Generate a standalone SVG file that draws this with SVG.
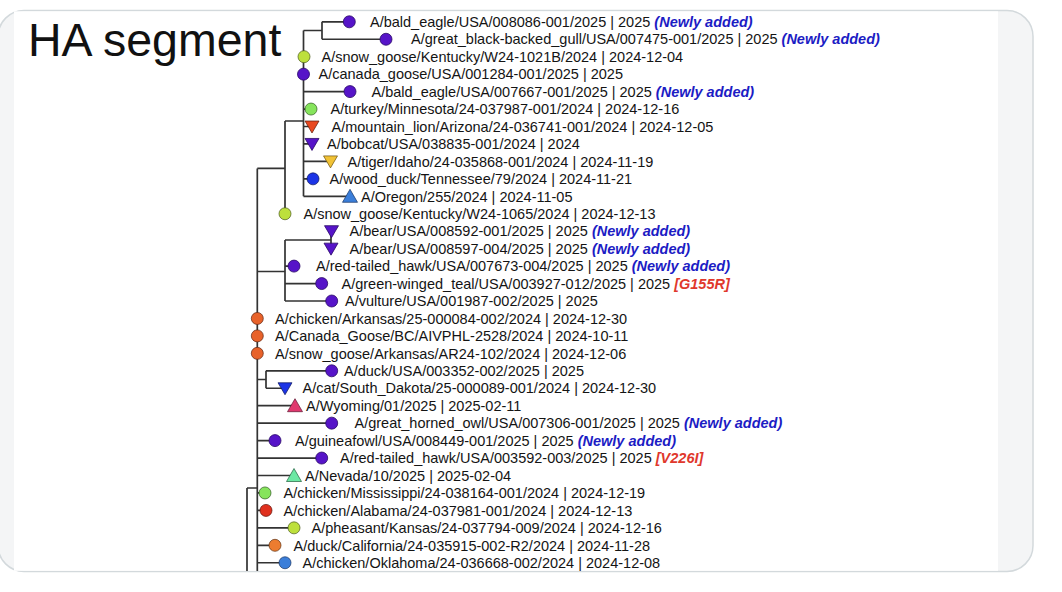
<svg xmlns="http://www.w3.org/2000/svg" xmlns:xlink="http://www.w3.org/1999/xlink" width="1062" height="592" viewBox="0 0 1062 592">
<style>
text{font-family:"Liberation Sans",Arial,Helvetica,sans-serif;font-size:14.5px;fill:#141414}
.title{font-size:46.5px;fill:#111}
.nw{fill:#1c1cc4;font-weight:bold;font-style:italic}
.mut{fill:#e0382c;font-weight:bold;font-style:italic}
.br{fill:none;stroke:#333;stroke-width:1.7}
.pu{fill:#5614c8;stroke:#2a0a66;stroke-width:0.8}
.yg{fill:#bde03c;stroke:#4a5a18;stroke-width:0.7}
.lg{fill:#86e45c;stroke:#2f5a20;stroke-width:0.7}
.rd{fill:#e9481f;stroke:#5a1a0a;stroke-width:0.7}
.gd{fill:#f1c235;stroke:#6a5210;stroke-width:0.7}
.bl{fill:#1c34e6;stroke:#0a145a;stroke-width:0.7}
.mb{fill:#3b7ed9;stroke:#173463;stroke-width:0.7}
.or{fill:#e8622a;stroke:#5e2410;stroke-width:0.7}
.or2{fill:#ec7c30;stroke:#5e3010;stroke-width:0.7}
.pk{fill:#e0386e;stroke:#5e1430;stroke-width:0.7}
.mt{fill:#6ce8a4;stroke:#1f5e3e;stroke-width:0.7}
.al{fill:#e0301e;stroke:#5e140c;stroke-width:0.7}
</style>
<defs>
<circle id="dot" r="6"/>
<path id="tdn" d="M-7,-5.5 L7,-5.5 L0,6.5 Z"/>
<path id="tup" d="M0,-7 L7.5,6 L-7.5,6 Z"/>
<clipPath id="card"><rect x="0" y="11" width="1032" height="560"/></clipPath>
</defs>
<rect x="0" y="0" width="1062" height="592" fill="#ffffff"/>
<rect x="-2" y="10.5" width="1035" height="561" rx="26" fill="#f4f5f6" stroke="#d3d9dc" stroke-width="1.5"/>
<rect x="14" y="11.3" width="984" height="559.5" fill="#ffffff"/>
<text class="title" x="28" y="56">HA segment</text>
<g id="connectors" clip-path="url(#card)">
<path class="br" d="M322,21.8 V39.25 M322,21.8 H349 M322,39.25 H386 M303.5,30.5 H322"/>
<path class="br" d="M303.5,30.5 V196.3 M303.5,91.6 H350 M303.5,109.05 H311 M303.5,126.5 H312 M303.5,143.95 H312 M303.5,161.4 H330.5 M303.5,178.85 H313 M303.5,196.3 H350"/>
<path class="br" d="M285,121 V213.75 M285,121 H303.5"/>
<path class="br" d="M257.3,168.4 V575 M257.3,168.4 H285"/>
<path class="br" d="M285,240 V301 M285,240 H331 M331,231.2 V248.65 M285,266.1 H294 M285,283.55 H321.7 M285,301 H331.7 M257.3,271.5 H285"/>
<path class="br" d="M266,370.8 V388.25 M257.3,379.5 H266 M266,370.8 H331.7 M266,388.25 H285"/>
<path class="br" d="M257.3,405.7 H295 M257.3,423.15 H331.7 M257.3,440.6 H275 M257.3,458.05 H321.7 M257.3,475.5 H294 M257.3,492.95 H265 M257.3,510.4 H266 M257.3,527.85 H294 M257.3,545.3 H275 M257.3,562.75 H285"/>
<path class="br" d="M247,488 V575 M247,488 H257.3"/>
</g>
<g id="leaf-bald-eagle-008086"><use href="#dot" x="349.3" y="21.8" class="pu"/><text x="370" y="27">A/bald_eagle/USA/008086-001/2025 | 2025 <tspan class="nw">(Newly added)</tspan></text></g>
<g id="leaf-gull-007475"><use href="#dot" x="386" y="39.25" class="pu"/><text x="411" y="44.45">A/great_black-backed_gull/USA/007475-001/2025 | 2025 <tspan class="nw">(Newly added)</tspan></text></g>
<g id="leaf-snow-goose-w24-1021b"><use href="#dot" x="304" y="56.7" class="yg"/><text x="321.5" y="61.9">A/snow_goose/Kentucky/W24-1021B/2024 | 2024-12-04</text></g>
<g id="leaf-canada-goose-001284"><use href="#dot" x="303.5" y="74.15" class="pu"/><text x="318.5" y="79.35">A/canada_goose/USA/001284-001/2025 | 2025</text></g>
<g id="leaf-bald-eagle-007667"><use href="#dot" x="350" y="91.6" class="pu"/><text x="371.5" y="96.8">A/bald_eagle/USA/007667-001/2025 | 2025 <tspan class="nw">(Newly added)</tspan></text></g>
<g id="leaf-turkey"><use href="#dot" x="311" y="109.05" class="lg"/><text x="330.5" y="114.25">A/turkey/Minnesota/24-037987-001/2024 | 2024-12-16</text></g>
<g id="leaf-mountain-lion"><use href="#tdn" x="312" y="126.5" class="rd"/><text x="331.5" y="131.7">A/mountain_lion/Arizona/24-036741-001/2024 | 2024-12-05</text></g>
<g id="leaf-bobcat"><use href="#tdn" x="312" y="143.95" class="pu"/><text x="327" y="149.15">A/bobcat/USA/038835-001/2024 | 2024</text></g>
<g id="leaf-tiger"><use href="#tdn" x="330.5" y="161.4" class="gd"/><text x="347.5" y="166.6">A/tiger/Idaho/24-035868-001/2024 | 2024-11-19</text></g>
<g id="leaf-wood-duck"><use href="#dot" x="313" y="178.85" class="bl"/><text x="329.5" y="184.05">A/wood_duck/Tennessee/79/2024 | 2024-11-21</text></g>
<g id="leaf-oregon"><use href="#tup" x="350" y="196.3" class="mb"/><text x="361" y="201.5">A/Oregon/255/2024 | 2024-11-05</text></g>
<g id="leaf-snow-goose-w24-1065"><use href="#dot" x="285" y="213.75" class="yg"/><text x="303.5" y="218.95">A/snow_goose/Kentucky/W24-1065/2024 | 2024-12-13</text></g>
<g id="leaf-bear-008592"><use href="#tdn" x="331.5" y="231.2" class="pu"/><text x="349.5" y="236.4">A/bear/USA/008592-001/2025 | 2025 <tspan class="nw">(Newly added)</tspan></text></g>
<g id="leaf-bear-008597"><use href="#tdn" x="331" y="248.65" class="pu"/><text x="349.5" y="253.85">A/bear/USA/008597-004/2025 | 2025 <tspan class="nw">(Newly added)</tspan></text></g>
<g id="leaf-red-tailed-hawk-007673"><use href="#dot" x="294" y="266.1" class="pu"/><text x="316" y="271.3">A/red-tailed_hawk/USA/007673-004/2025 | 2025 <tspan class="nw">(Newly added)</tspan></text></g>
<g id="leaf-green-winged-teal"><use href="#dot" x="321.7" y="283.55" class="pu"/><text x="341.5" y="288.75">A/green-winged_teal/USA/003927-012/2025 | 2025 <tspan class="mut">[G155R]</tspan></text></g>
<g id="leaf-vulture"><use href="#dot" x="331.7" y="301" class="pu"/><text x="345" y="306.2">A/vulture/USA/001987-002/2025 | 2025</text></g>
<g id="leaf-chicken-arkansas"><use href="#dot" x="257.3" y="318.45" class="or"/><text x="275" y="323.65">A/chicken/Arkansas/25-000084-002/2024 | 2024-12-30</text></g>
<g id="leaf-canada-goose-bc"><use href="#dot" x="257.3" y="335.9" class="or"/><text x="275" y="341.1">A/Canada_Goose/BC/AIVPHL-2528/2024 | 2024-10-11</text></g>
<g id="leaf-snow-goose-arkansas"><use href="#dot" x="257.3" y="353.35" class="or"/><text x="275" y="358.55">A/snow_goose/Arkansas/AR24-102/2024 | 2024-12-06</text></g>
<g id="leaf-duck-003352"><use href="#dot" x="331.7" y="370.8" class="pu"/><text x="344" y="376">A/duck/USA/003352-002/2025 | 2025</text></g>
<g id="leaf-cat"><use href="#tdn" x="285" y="388.25" class="bl"/><text x="302.5" y="393.45">A/cat/South_Dakota/25-000089-001/2024 | 2024-12-30</text></g>
<g id="leaf-wyoming"><use href="#tup" x="295" y="405.7" class="pk"/><text x="306" y="410.9">A/Wyoming/01/2025 | 2025-02-11</text></g>
<g id="leaf-great-horned-owl"><use href="#dot" x="331.7" y="423.15" class="pu"/><text x="354.5" y="428.35">A/great_horned_owl/USA/007306-001/2025 | 2025 <tspan class="nw">(Newly added)</tspan></text></g>
<g id="leaf-guineafowl"><use href="#dot" x="275" y="440.6" class="pu"/><text x="295" y="445.8">A/guineafowl/USA/008449-001/2025 | 2025 <tspan class="nw">(Newly added)</tspan></text></g>
<g id="leaf-red-tailed-hawk-003592"><use href="#dot" x="321.7" y="458.05" class="pu"/><text x="340" y="463.25">A/red-tailed_hawk/USA/003592-003/2025 | 2025 <tspan class="mut">[V226I]</tspan></text></g>
<g id="leaf-nevada"><use href="#tup" x="294" y="475.5" class="mt"/><text x="305" y="480.7">A/Nevada/10/2025 | 2025-02-04</text></g>
<g id="leaf-chicken-mississippi"><use href="#dot" x="265" y="492.95" class="lg"/><text x="283.5" y="498.15">A/chicken/Mississippi/24-038164-001/2024 | 2024-12-19</text></g>
<g id="leaf-chicken-alabama"><use href="#dot" x="266" y="510.4" class="al"/><text x="283.5" y="515.6">A/chicken/Alabama/24-037981-001/2024 | 2024-12-13</text></g>
<g id="leaf-pheasant"><use href="#dot" x="294" y="527.85" class="yg"/><text x="311.5" y="533.05">A/pheasant/Kansas/24-037794-009/2024 | 2024-12-16</text></g>
<g id="leaf-duck-california"><use href="#dot" x="275" y="545.3" class="or2"/><text x="293.5" y="550.5">A/duck/California/24-035915-002-R2/2024 | 2024-11-28</text></g>
<g id="leaf-chicken-oklahoma"><use href="#dot" x="285" y="562.75" class="mb"/><text x="302.5" y="567.95">A/chicken/Oklahoma/24-036668-002/2024 | 2024-12-08</text></g>
</svg>
